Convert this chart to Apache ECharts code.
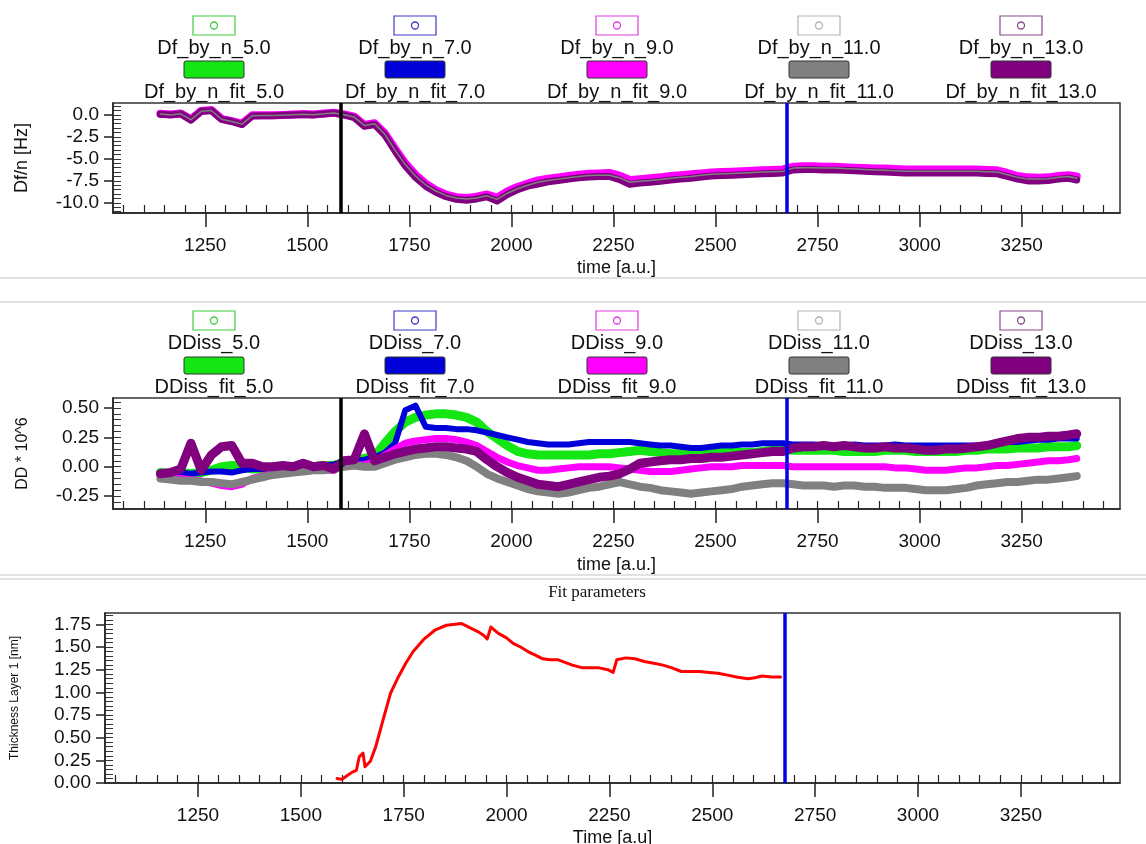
<!DOCTYPE html>
<html>
<head>
<meta charset="utf-8">
<title>QCM-D overtones</title>
<script src="https://cdn.jsdelivr.net/npm/echarts@6/dist/echarts.min.js"></script>
<style>
html, body { margin: 0; padding: 0; background: #fff; }
#main { width: 1146px; height: 844px; }
</style>
</head>
<body>
<div id="main"></div>
<script>
// time axis shared by the two upper panels
var time = [1140, 1165, 1190, 1215, 1240, 1265, 1290, 1315, 1340, 1365,
	1390, 1415, 1440, 1465, 1490, 1515, 1540, 1565, 1590, 1615,
	1640, 1665, 1690, 1715, 1740, 1765, 1790, 1815, 1840, 1865,
	1890, 1915, 1940, 1965, 1990, 2015, 2040, 2065, 2090, 2115,
	2140, 2165, 2190, 2215, 2240, 2265, 2290, 2315, 2340, 2365,
	2390, 2415, 2440, 2465, 2490, 2515, 2540, 2565, 2590, 2615,
	2640, 2665, 2690, 2715, 2740, 2765, 2790, 2815, 2840, 2865,
	2890, 2915, 2940, 2965, 2990, 3015, 3040, 3065, 3090, 3115,
	3140, 3165, 3190, 3215, 3240, 3265, 3290, 3315, 3340, 3365,
	3385];

// Df/n [Hz]
var dfByN9 = [0.12, 0.05, 0.15, -0.5, 0.45, 0.55, -0.45, -0.7, -1.0, -0.05,
	-0.05, -0.05, 0.0, 0.05, 0.1, 0.05, 0.15, 0.25, 0.05, -0.2,
	-1.15, -0.95, -2.1, -3.85, -5.5, -6.8, -7.8, -8.55, -9.05, -9.35,
	-9.45, -9.3, -9.05, -9.4, -8.7, -8.2, -7.8, -7.45, -7.25, -7.1,
	-6.95, -6.8, -6.7, -6.65, -6.6, -6.9, -7.4, -7.3, -7.2, -7.1,
	-6.95, -6.85, -6.75, -6.65, -6.55, -6.5, -6.45, -6.4, -6.35, -6.3,
	-6.25, -6.2, -5.9, -5.85, -5.85, -5.9, -5.9, -5.95, -6.0, -6.05,
	-6.1, -6.1, -6.15, -6.2, -6.2, -6.2, -6.2, -6.2, -6.2, -6.2,
	-6.2, -6.25, -6.3, -6.6, -6.95, -7.1, -7.15, -7.1, -6.95, -6.85,
	-7.0];
var dfByN13 = [0.08, 0.0, 0.12, -0.6, 0.42, 0.5, -0.5, -0.75, -1.1, -0.12,
	-0.1, -0.1, -0.05, 0.0, 0.05, 0.0, 0.1, 0.22, 0.0, -0.3,
	-1.3, -1.1, -2.3, -4.1, -5.8, -7.1, -8.1, -8.8, -9.3, -9.6,
	-9.7, -9.55, -9.3, -9.8, -9.05, -8.5, -8.1, -7.85, -7.6, -7.45,
	-7.3, -7.15, -7.05, -7.0, -7.0, -7.35, -7.9, -7.75, -7.65, -7.55,
	-7.4, -7.3, -7.2, -7.05, -6.95, -6.9, -6.85, -6.8, -6.75, -6.7,
	-6.65, -6.6, -6.25, -6.2, -6.2, -6.25, -6.25, -6.3, -6.35, -6.4,
	-6.45, -6.5, -6.55, -6.6, -6.6, -6.6, -6.6, -6.6, -6.6, -6.6,
	-6.6, -6.65, -6.7, -7.0, -7.3, -7.5, -7.5, -7.45, -7.3, -7.2,
	-7.4];
var dfFit11 = [0.1, 0.0, 0.12, -0.55, 0.4, 0.5, -0.5, -0.75, -1.05, -0.1,
	-0.08, -0.08, -0.03, 0.02, 0.06, 0.02, 0.12, 0.22, 0.02, -0.25,
	-1.2, -1.0, -2.2, -4.0, -5.65, -6.95, -7.95, -8.65, -9.15, -9.45,
	-9.55, -9.45, -9.2, -9.6, -8.9, -8.4, -8.0, -7.65, -7.45, -7.3,
	-7.15, -7.0, -6.9, -6.85, -6.85, -7.15, -7.65, -7.55, -7.45, -7.35,
	-7.2, -7.1, -7.0, -6.85, -6.75, -6.7, -6.65, -6.6, -6.55, -6.5,
	-6.45, -6.4, -6.05, -6.0, -6.0, -6.05, -6.05, -6.1, -6.15, -6.2,
	-6.25, -6.3, -6.35, -6.4, -6.4, -6.4, -6.4, -6.4, -6.4, -6.4,
	-6.4, -6.45, -6.5, -6.8, -7.1, -7.3, -7.3, -7.25, -7.1, -7.0,
	-7.2];

// DD * 10^6
var dd5 = [-0.05, -0.06, -0.05, -0.06, -0.05, -0.03, 0.0, 0.01, 0.01, -0.02,
	-0.02, -0.02, -0.01, -0.01, 0.0, 0.0, 0.01, 0.01, 0.04, 0.05,
	0.07, 0.09, 0.2, 0.3, 0.38, 0.42, 0.44, 0.45, 0.45, 0.44,
	0.42, 0.38, 0.3, 0.24, 0.18, 0.13, 0.11, 0.1, 0.1, 0.1,
	0.1, 0.1, 0.1, 0.11, 0.11, 0.12, 0.13, 0.14, 0.13, 0.12,
	0.11, 0.11, 0.11, 0.12, 0.12, 0.13, 0.13, 0.12, 0.12, 0.13,
	0.14, 0.15, 0.14, 0.14, 0.14, 0.14, 0.14, 0.13, 0.13, 0.13,
	0.13, 0.14, 0.14, 0.14, 0.13, 0.13, 0.13, 0.13, 0.13, 0.14,
	0.14, 0.15, 0.15, 0.15, 0.16, 0.16, 0.16, 0.17, 0.17, 0.17,
	0.18];
var dd7 = [-0.06, -0.06, -0.05, -0.06, -0.05, -0.04, -0.04, -0.05, -0.03, -0.02,
	-0.02, -0.01, -0.01, 0.0, 0.0, 0.0, 0.01, 0.02, 0.04, 0.05,
	0.06, 0.08, 0.12, 0.2, 0.48, 0.52, 0.34, 0.33, 0.33, 0.32,
	0.32, 0.31, 0.29, 0.27, 0.25, 0.23, 0.21, 0.2, 0.19, 0.19,
	0.19, 0.2, 0.21, 0.21, 0.21, 0.21, 0.21, 0.2, 0.19, 0.18,
	0.18, 0.17, 0.16, 0.16, 0.17, 0.18, 0.18, 0.19, 0.19, 0.2,
	0.2, 0.2, 0.19, 0.19, 0.19, 0.18, 0.18, 0.18, 0.19, 0.18,
	0.18, 0.18, 0.19, 0.18, 0.18, 0.18, 0.18, 0.18, 0.18, 0.18,
	0.18, 0.19, 0.2, 0.21, 0.21, 0.22, 0.23, 0.23, 0.24, 0.24,
	0.24];
var dd9 = [-0.08, -0.09, -0.1, -0.11, -0.12, -0.14, -0.16, -0.17, -0.15, -0.1,
	-0.08, -0.06, -0.05, -0.04, -0.04, -0.03, -0.03, -0.03, 0.02, 0.01,
	0.02, 0.04, 0.1, 0.15, 0.2, 0.22, 0.23, 0.24, 0.24, 0.23,
	0.21, 0.18, 0.13, 0.08, 0.04, 0.01, -0.01, -0.03, -0.03, -0.02,
	-0.01, 0.0, 0.0, 0.0, 0.0, -0.01, -0.02, -0.03, -0.04, -0.04,
	-0.04, -0.03, -0.02, -0.01, 0.0, 0.0, 0.0, 0.01, 0.01, 0.01,
	0.01, 0.01, 0.0, 0.0, 0.0, 0.0, 0.0, 0.0, 0.0, 0.0,
	0.0, 0.0, -0.01, -0.01, -0.02, -0.03, -0.03, -0.03, -0.02, -0.01,
	-0.01, 0.0, 0.01, 0.01, 0.02, 0.03, 0.04, 0.05, 0.05, 0.06,
	0.07];
var dd11 = [-0.1, -0.11, -0.12, -0.12, -0.13, -0.13, -0.14, -0.15, -0.13, -0.11,
	-0.09, -0.07, -0.06, -0.05, -0.04, -0.03, -0.03, -0.02, 0.0, 0.01,
	0.0, 0.0, 0.03, 0.06, 0.08, 0.1, 0.11, 0.11, 0.1, 0.08,
	0.05, 0.0, -0.06, -0.1, -0.13, -0.16, -0.19, -0.21, -0.22, -0.23,
	-0.22, -0.2, -0.18, -0.17, -0.15, -0.13, -0.15, -0.17, -0.18, -0.2,
	-0.21, -0.22, -0.23, -0.22, -0.21, -0.2, -0.19, -0.17, -0.16, -0.15,
	-0.14, -0.14, -0.15, -0.16, -0.16, -0.16, -0.17, -0.16, -0.16, -0.17,
	-0.17, -0.18, -0.18, -0.18, -0.19, -0.2, -0.2, -0.2, -0.19, -0.18,
	-0.16, -0.15, -0.14, -0.13, -0.13, -0.12, -0.11, -0.11, -0.1, -0.09,
	-0.08];
var dd13 = [-0.06, -0.05, -0.02, 0.2, -0.03, 0.1, 0.17, 0.18, 0.03, 0.03,
	0.0, 0.0, 0.01, 0.0, 0.03, 0.0, 0.01, -0.02, 0.05, 0.06,
	0.28, 0.05, 0.08, 0.11, 0.13, 0.15, 0.16, 0.17, 0.17, 0.16,
	0.15, 0.13, 0.06, 0.0, -0.05, -0.09, -0.12, -0.15, -0.16, -0.17,
	-0.15, -0.13, -0.11, -0.09, -0.08, -0.06, -0.02, 0.03, 0.04, 0.05,
	0.06, 0.06, 0.07, 0.07, 0.08, 0.08, 0.09, 0.1, 0.11, 0.12,
	0.13, 0.13, 0.16, 0.17, 0.17, 0.18, 0.17, 0.18, 0.17, 0.16,
	0.16, 0.17, 0.16, 0.16, 0.15, 0.14, 0.14, 0.15, 0.15, 0.16,
	0.17, 0.18, 0.2, 0.22, 0.24, 0.25, 0.25, 0.26, 0.26, 0.27,
	0.28];

// Thickness Layer 1 [nm]
var thickTime = [1588, 1600, 1612, 1625, 1635, 1642, 1651, 1656, 1669, 1682,
	1700, 1718, 1737, 1755, 1773, 1800, 1827, 1854, 1875, 1890,
	1908, 1930, 1944, 1953, 1962, 1980, 2000, 2016, 2034, 2052,
	2070, 2088, 2106, 2124, 2142, 2160, 2185, 2201, 2225, 2246,
	2259, 2268, 2290, 2312, 2335, 2358, 2380, 2402, 2425, 2447,
	2469, 2492, 2514, 2537, 2559, 2586, 2604, 2621, 2645, 2666];
var thickness = [0.05, 0.04, 0.08, 0.12, 0.14, 0.29, 0.33, 0.18, 0.24, 0.4,
	0.7, 0.99, 1.17, 1.32, 1.45, 1.59, 1.69, 1.74, 1.75, 1.76,
	1.72, 1.67, 1.63, 1.59, 1.72, 1.65, 1.6, 1.54, 1.5, 1.45,
	1.41, 1.37, 1.36, 1.36, 1.33, 1.3, 1.27, 1.27, 1.27, 1.25,
	1.22, 1.36, 1.38, 1.37, 1.34, 1.32, 1.3, 1.27, 1.23, 1.23,
	1.23, 1.22, 1.21, 1.19, 1.17, 1.15, 1.16, 1.18, 1.17, 1.17];

var timeTicks = [1250, 1500, 1750, 2000, 2250, 2500, 2750, 3000, 3250];
var dfTicks = [0, -2.5, -5, -7.5, -10];
var ddTicks = [0.5, 0.25, 0, -0.25];
var thickTicks = [0, 0.25, 0.5, 0.75, 1, 1.25, 1.5, 1.75];
var startMark = 1582;
var cursorMark = 2675;

var overtones = ['5.0', '7.0', '9.0', '11.0', '13.0'];
var colors = ['#14e614', '#0000d8', '#ff00ff', '#808080', '#800080'];
var edgeColors = ['#3fce3f', '#3a3ac8', '#e03ce0', '#b4b4b4', '#8a4a8a'];
var legendX = [214, 415, 617, 819, 1021];

var FONT = '"Liberation Sans", Arial, sans-serif';

function steps(from, to, step) {
	var out = [];
	for (var v = from; v <= to + 1e-9; v += step) out.push(Math.round(v * 100) / 100);
	return out;
}

function mainX(grid, name, gap) {
	return {
		type: 'value', gridIndex: grid, position: 'bottom', min: 1024, max: 3491,
		name: name, nameLocation: 'middle', nameGap: gap,
		nameTextStyle: { fontFamily: FONT, fontSize: 18, color: '#111' },
		axisLine: { onZero: false, lineStyle: { color: '#222', width: 1.5 } },
		axisTick: { customValues: timeTicks, length: 14, lineStyle: { color: '#222', width: 1.5 } },
		axisLabel: {
			customValues: timeTicks, margin: 23, fontFamily: FONT, fontSize: 19, color: '#111',
			formatter: function(v) { return String(v); }
		},
		splitLine: { show: false }
	};
}
function minorX(grid) {
	return {
		type: 'value', gridIndex: grid, position: 'bottom', min: 1024, max: 3491,
		axisLine: { show: false, onZero: false },
		axisTick: { customValues: steps(1050, 3450, 50), inside: true, length: 8, lineStyle: { color: '#222', width: 1.2 } },
		axisLabel: { show: false },
		splitLine: { show: false }
	};
}
function mainY(grid, min, max, ticks, digits, name, gap, nameSize) {
	return {
		type: 'value', gridIndex: grid, position: 'left', min: min, max: max,
		name: name, nameLocation: 'middle', nameGap: gap,
		nameTextStyle: { fontFamily: FONT, fontSize: nameSize, color: '#111' },
		axisLine: { onZero: false, lineStyle: { color: '#222', width: 1.5 } },
		axisTick: { customValues: ticks, length: 9, lineStyle: { color: '#222', width: 1.5 } },
		axisLabel: {
			customValues: ticks, margin: 14, fontFamily: FONT, fontSize: 19, color: '#111',
			formatter: function(v) { return v.toFixed(digits); }
		},
		splitLine: { show: false }
	};
}
function minorY(grid, min, max, step) {
	return {
		type: 'value', gridIndex: grid, position: 'left', min: min, max: max,
		axisLine: { show: false, onZero: false },
		axisTick: { customValues: steps(Math.ceil(min / step) * step, max, step), inside: true, length: 8, lineStyle: { color: '#333', width: 1 } },
		axisLabel: { show: false },
		splitLine: { show: false }
	};
}

function band(name, axis, xs, ys, color, width) {
	return {
		name: name, type: 'line', xAxisIndex: axis, yAxisIndex: axis,
		data: xs.map(function(t, i) { return [t, ys[i]]; }),
		symbol: 'none', silent: true,
		lineStyle: { color: color, width: width, join: 'round', cap: 'round' }
	};
}

function marks(withStart) {
	var d = [];
	if (withStart) d.push({ xAxis: startMark, lineStyle: { color: '#000' } });
	d.push({ xAxis: cursorMark, lineStyle: { color: '#0000e6' } });
	return { symbol: 'none', silent: true, label: { show: false }, lineStyle: { width: 3.5, type: 'solid' }, data: d };
}

// legend blocks drawn as graphic, one column per overtone
function legendBlock(prefix, fitPrefix, y0, y1, y2, y3) {
	var els = [];
	overtones.forEach(function(ov, i) {
		var cx = legendX[i];
		els.push({ type: 'rect', shape: { x: cx - 21, y: y0, width: 42, height: 19 }, style: { fill: 'none', stroke: edgeColors[i], lineWidth: 1.2 } });
		els.push({ type: 'circle', shape: { cx: cx, cy: y0 + 9.5, r: 3.5 }, style: { fill: 'none', stroke: edgeColors[i], lineWidth: 1.3 } });
		els.push({ type: 'text', x: cx, y: y1, style: { text: prefix + ov, fontFamily: FONT, fontSize: 20, fill: '#111', align: 'center', verticalAlign: 'middle' } });
		els.push({ type: 'rect', shape: { x: cx - 30, y: y2, width: 60, height: 17, r: 2 }, style: { fill: colors[i], stroke: '#333', lineWidth: 1 } });
		els.push({ type: 'text', x: cx, y: y3, style: { text: fitPrefix + ov, fontFamily: FONT, fontSize: 20, fill: '#111', align: 'center', verticalAlign: 'middle' } });
	});
	return els;
}

function hline(y) {
	return { type: 'line', shape: { x1: 0, y1: y, x2: 1146, y2: y }, style: { stroke: '#c4c4c4', lineWidth: 1.2 } };
}

var chart = echarts.init(document.getElementById('main'));

var topSeries = [
	band('Df_by_n_9.0', 0, time, dfByN9, colors[2], 8),
	band('Df_by_n_13.0', 0, time, dfByN13, colors[4], 7),
	band('Df_by_n_fit_11.0', 0, time, dfFit11, colors[3], 1.5)
];
topSeries[2].markLine = marks(true);

var midSeries = [
	band('DDiss_5.0', 2, time, dd5, colors[0], 9),
	band('DDiss_7.0', 2, time, dd7, colors[1], 6),
	band('DDiss_9.0', 2, time, dd9, colors[2], 7),
	band('DDiss_11.0', 2, time, dd11, colors[3], 8),
	band('DDiss_13.0', 2, time, dd13, colors[4], 9)
];
midSeries[4].markLine = marks(true);

var botSeries = [band('Thickness Layer 1', 4, thickTime, thickness, '#ff0000', 3)];
botSeries[0].markLine = marks(false);

chart.setOption({
	animation: false,
	backgroundColor: '#fff',
	grid: [
		{ left: 113, right: 26, top: 103, height: 110, show: true, borderColor: '#333', borderWidth: 1.5, outerBoundsMode: 'none' },
		{ left: 113, right: 26, top: 398, height: 111, show: true, borderColor: '#333', borderWidth: 1.5, outerBoundsMode: 'none' },
		{ left: 105, right: 26, top: 613, height: 170, show: true, borderColor: '#333', borderWidth: 1.5, outerBoundsMode: 'none' }
	],
	xAxis: [
		mainX(0, 'time [a.u.]', 46), minorX(0),
		mainX(1, 'time [a.u.]', 47), minorX(1),
		mainX(2, 'Time [a.u]', 46), minorX(2)
	],
	yAxis: [
		mainY(0, -11.15, 1.35, dfTicks, 1, 'Df/n [Hz]', 82, 18), minorY(0, -11.15, 1.35, 0.5),
		mainY(1, -0.36, 0.585, ddTicks, 2, 'DD * 10^6', 82, 16), minorY(1, -0.36, 0.585, 0.05),
		mainY(2, 0, 1.875, thickTicks, 2, 'Thickness Layer 1 [nm]', 84, 12), minorY(2, 0, 1.875, 0.05)
	],
	series: topSeries.concat(midSeries, botSeries),
	graphic: [
		hline(278), hline(302), hline(575), hline(579),
		{ type: 'text', x: 597, y: 593, style: { text: 'Fit parameters', fontFamily: '"Liberation Serif", "Times New Roman", serif', fontSize: 17, fill: '#111', align: 'center', verticalAlign: 'middle' } }
	].concat(
		legendBlock('Df_by_n_', 'Df_by_n_fit_', 16, 48, 61, 92),
		legendBlock('DDiss_', 'DDiss_fit_', 311, 343, 357, 387)
	)
});
</script>
</body>
</html>
